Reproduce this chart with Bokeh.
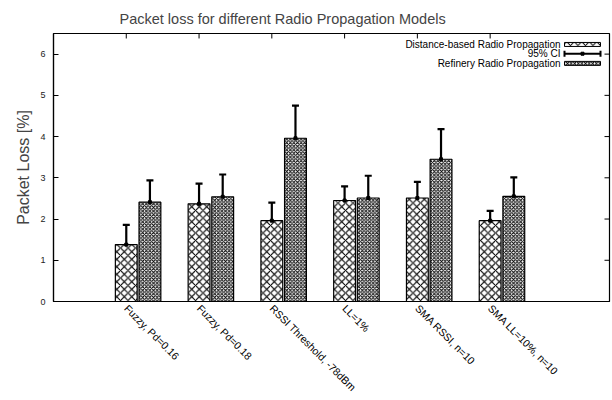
import math
from bokeh.plotting import figure
from bokeh.models import (Range1d, FixedTicker, Whisker, TeeHead,
                          ColumnDataSource, Label, BoxAnnotation)
from bokeh.embed import file_html
from bokeh.resources import INLINE

# ---- data ----
categories = ["Fuzzy, Pd=0.16", "Fuzzy, Pd=0.18", "RSSI Threshold, -78dBm",
              "LL=1%", "SMA RSSI, n=10", "SMA LL=10%, n=10"]
dist_vals = [1.38, 2.37, 1.96, 2.45, 2.51, 1.96]
dist_lo = [1.18, 1.86, 1.52, 2.08, 2.12, 1.62]
dist_hi = [1.86, 2.86, 2.40, 2.79, 2.90, 2.20]
ref_vals = [2.41, 2.54, 3.96, 2.51, 3.45, 2.55]
ref_lo = [1.88, 1.99, 3.18, 1.77, 2.71, 1.88]
ref_hi = [2.94, 3.08, 4.75, 3.05, 4.18, 3.01]
y_ticks = [0, 1, 2, 3, 4, 5, 6]
series_names = ["Distance-based Radio Propagation", "95% CI", "Refinery Radio Propagation"]

FONT = "Liberation Sans"
X0, X1 = -1.0, 6.64
Y0, Y1 = 0.0, 6.5
FW, FH = 556.0, 269.0  # approx frame size in px
ux = (X1 - X0) / FW
uy = (Y1 - Y0) / FH

p = figure(width=612, height=400, output_backend="svg", toolbar_location=None,
           x_range=Range1d(X0, X1), y_range=Range1d(Y0, Y1),
           min_border_left=53, min_border_right=3, min_border_top=33,
           min_border_bottom=98,
           title="Packet loss for different Radio Propagation Models")
p.title.text_font = FONT
p.title.text_font_size = "14.5px"
p.title.text_font_style = "normal"
p.title.align = "left"
p.title.offset = 66
p.title.standoff = 14
p.xgrid.visible = False
p.ygrid.visible = False
p.outline_line_color = "black"
p.outline_line_width = 1.2
p.background_fill_color = "white"
p.border_fill_color = "white"

idx = list(range(len(categories)))

# bottom axis
xa = p.xaxis[0]
xa.ticker = FixedTicker(ticks=idx)
xa.major_label_overrides = {i: c for i, c in enumerate(categories)}
xa.major_label_orientation = -math.pi / 4
xa.major_label_text_font = FONT
xa.major_label_text_font_size = "10.5px"
xa.major_label_text_color = "black"
xa.major_label_standoff = 5
xa.major_tick_in = 0
xa.major_tick_out = 0
xa.minor_tick_line_color = None
xa.axis_line_color = "black"
xa.axis_line_width = 1.2

# left axis
ya = p.yaxis[0]
ya.ticker = FixedTicker(ticks=y_ticks)
ya.major_label_text_font = FONT
ya.major_label_text_font_size = "9px"
ya.major_label_text_color = "#222222"
ya.major_label_standoff = 8
ya.major_tick_in = 5
ya.major_tick_out = 0
ya.minor_tick_line_color = None
ya.axis_line_color = "black"
ya.axis_line_width = 1.2
ya.axis_label = "Packet Loss [%]"
ya.axis_label_text_font = FONT
ya.axis_label_text_font_size = "16px"
ya.axis_label_text_font_style = "normal"
ya.axis_label_standoff = 5

# mirrored tick marks (top and right edges of the frame)
p.segment(x0=idx, x1=idx, y0=[Y1] * len(idx), y1=[Y1 - 5 * uy] * len(idx),
          line_color="black", line_width=1)
p.segment(x0=[X1] * len(y_ticks), x1=[X1 - 5 * ux] * len(y_ticks),
          y0=y_ticks, y1=y_ticks, line_color="black", line_width=1)

# bars
BW = 0.30
OFF = 0.325
x_dist = [i for i in idx]
x_ref = [i + OFF for i in idx]

p.vbar(x=x_dist, top=dist_vals, bottom=0, width=BW, fill_color="white",
       line_color="black", line_width=1.2, hatch_pattern="diagonal_cross",
       hatch_scale=7.5, hatch_weight=1.1, hatch_color="black")
p.vbar(x=x_ref, top=ref_vals, bottom=0, width=BW, fill_color="white",
       line_color="black", line_width=1.2, hatch_pattern="diagonal_cross",
       hatch_scale=3.6, hatch_weight=1.0, hatch_color="black")

# error bars
for xs, lo, hi, vals in ((x_dist, dist_lo, dist_hi, dist_vals),
                         (x_ref, ref_lo, ref_hi, ref_vals)):
    src = ColumnDataSource(dict(base=xs, lower=lo, upper=hi))
    w = Whisker(source=src, base="base", lower="lower", upper="upper",
                line_color="black", line_width=2.2,
                upper_head=TeeHead(size=7, line_width=2.2, line_color="black"),
                lower_head=TeeHead(size=7, line_width=2.2, line_color="black"))
    p.add_layout(w)
    p.scatter(x=xs, y=vals, marker="square", size=3, color="black")

# legend (top right, gnuplot-like: label right-aligned, sample on the right)
rows_y = [Y1 - 11 * uy, Y1 - 20.3 * uy, Y1 - 30 * uy]
sx0 = X1 - 45 * ux
sx1 = X1 - 9 * ux
tx = X1 - 49 * ux
for name, yy in zip(series_names, rows_y):
    p.add_layout(Label(x=tx, y=yy, text=name, text_align="right",
                       text_baseline="middle", text_font=FONT,
                       text_font_size="10px", text_color="black"))
for yy, sc in ((rows_y[0], 7.5), (rows_y[2], 3.6)):
    p.add_layout(BoxAnnotation(left=sx0, right=sx1, bottom=yy - 2 * uy, top=yy + 2 * uy,
                               fill_color="white", fill_alpha=1.0,
                               line_color="black", line_alpha=1.0, line_width=1,
                               hatch_pattern="diagonal_cross", hatch_scale=sc,
                               hatch_color="black", hatch_weight=1.0, level="annotation"))
leg_src = ColumnDataSource(dict(base=[rows_y[1]], lower=[sx0], upper=[sx1]))
p.add_layout(Whisker(source=leg_src, base="base", lower="lower", upper="upper",
                     dimension="width", line_color="black", line_width=2,
                     upper_head=TeeHead(size=6, line_width=2, line_color="black"),
                     lower_head=TeeHead(size=6, line_width=2, line_color="black")))
p.scatter(x=[(sx0 + sx1) / 2], y=[rows_y[1]], marker="square", size=3, color="black")

open("out.html", "w").write(file_html(p, INLINE))
